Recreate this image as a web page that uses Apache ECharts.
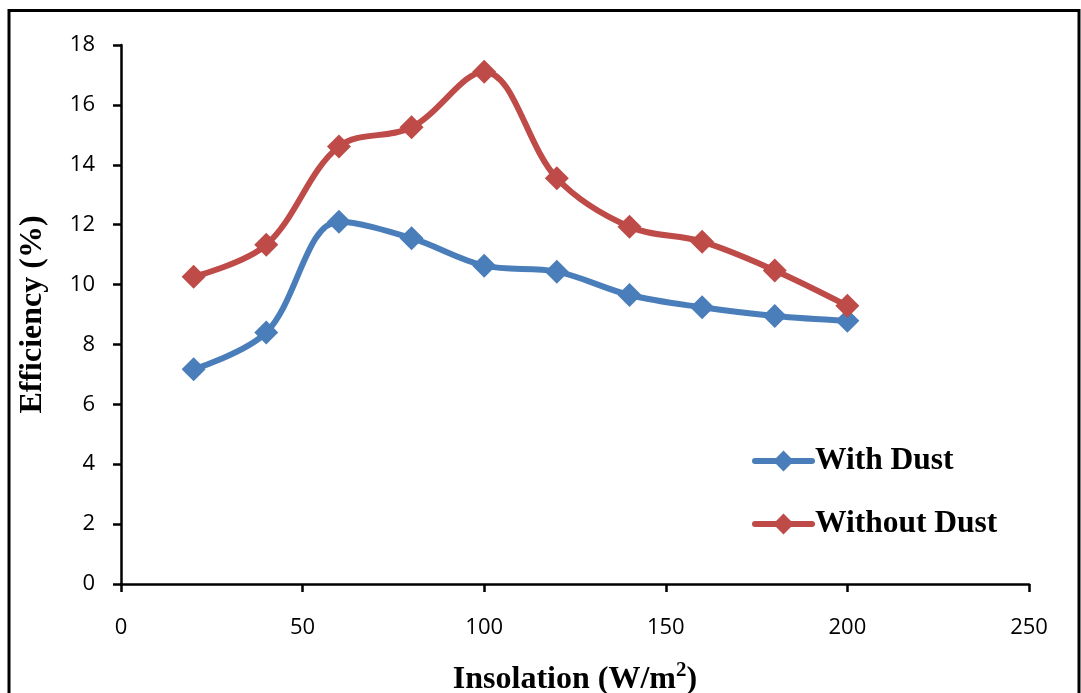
<!DOCTYPE html>
<html>
<head>
<meta charset="utf-8">
<script src="https://cdn.jsdelivr.net/npm/echarts@6/dist/echarts.min.js"></script>
<style>
html,body{margin:0;padding:0;background:#fff;overflow:hidden;}
#c{width:1081px;height:693px;}
</style>
</head>
<body>
<div id="c"></div>
<script>
const insolation = [20, 40, 60, 80, 100, 120, 140, 160, 180, 200];
const withDust = [7.17, 8.40, 12.10, 11.55, 10.63, 10.43, 9.65, 9.24, 8.95, 8.79];
const withoutDust = [10.26, 11.33, 14.61, 15.25, 17.11, 13.55, 11.93, 11.43, 10.47, 9.29];
const seriesNames = ['With Dust', 'Without Dust'];
const seriesColors = ['#4a7ebb', '#be4b48'];

const chart = echarts.init(document.getElementById('c'));
const tickFont = { fontFamily: 'Open Sans', fontSize: 22, color: '#000' };
const axisLine = { show: true, onZero: false, lineStyle: { color: '#000', width: 2.5 } };
const axisTick = { show: true, inside: false, length: 8, lineStyle: { color: '#000', width: 2.5 } };

function mk(name, vals, color) {
  return {
    name: name,
    type: 'line',
    data: insolation.map((x, i) => [x, vals[i]]),
    smooth: 0.35,
    symbol: 'diamond',
    symbolSize: 24,
    lineStyle: { color: color, width: 6 },
    itemStyle: { color: color },
    emphasis: { disabled: true }
  };
}

chart.setOption({
  animation: false,
  grid: { left: 121, right: 52, top: 45, bottom: 109, outerBoundsMode: 'none', containLabel: false },
  legend: {
    orient: 'vertical',
    left: 752,
    top: 445,
    padding: 0,
    itemWidth: 57,
    itemHeight: 26,
    itemGap: 31,
    lineStyle: { width: 6, cap: 'round' },
    textStyle: { fontFamily: 'Liberation Serif', fontWeight: 'bold', fontSize: 31.5, color: '#000', padding: [0, 0, 0, -2] },
    data: seriesNames
  },
  xAxis: {
    type: 'value',
    min: 0, max: 250, interval: 50,
    axisLine: axisLine, axisTick: axisTick,
    splitLine: { show: false },
    axisLabel: Object.assign({ margin: 33 }, tickFont),
    name: '{b|Insolation (W/m}{s|2}{b|)}',
    nameLocation: 'middle',
    nameGap: 76,
    nameTextStyle: {
      rich: {
        b: { fontFamily: 'Liberation Serif', fontWeight: 'bold', fontSize: 32, color: '#000', lineHeight: 36, verticalAlign: 'bottom' },
        s: { fontFamily: 'Liberation Serif', fontWeight: 'bold', fontSize: 21, color: '#000', lineHeight: 36, verticalAlign: 'top', padding: [0, 0, 12, 0] }
      }
    }
  },
  yAxis: {
    type: 'value',
    min: 0, max: 18, interval: 2,
    axisLine: axisLine, axisTick: axisTick,
    splitLine: { show: false },
    axisLabel: Object.assign({ margin: 26 }, tickFont),
    name: 'Efficiency (%)',
    nameLocation: 'middle',
    nameGap: 72,
    nameTextStyle: { fontFamily: 'Liberation Serif', fontWeight: 'bold', fontSize: 32, color: '#000' }
  },
  graphic: [{
    type: 'rect',
    shape: { x: 9, y: 10.5, width: 1070, height: 700 },
    style: { fill: 'none', stroke: '#000', lineWidth: 3 },
    silent: true
  }],
  series: [
    mk(seriesNames[0], withDust, seriesColors[0]),
    mk(seriesNames[1], withoutDust, seriesColors[1])
  ]
});
</script>
</body>
</html>
